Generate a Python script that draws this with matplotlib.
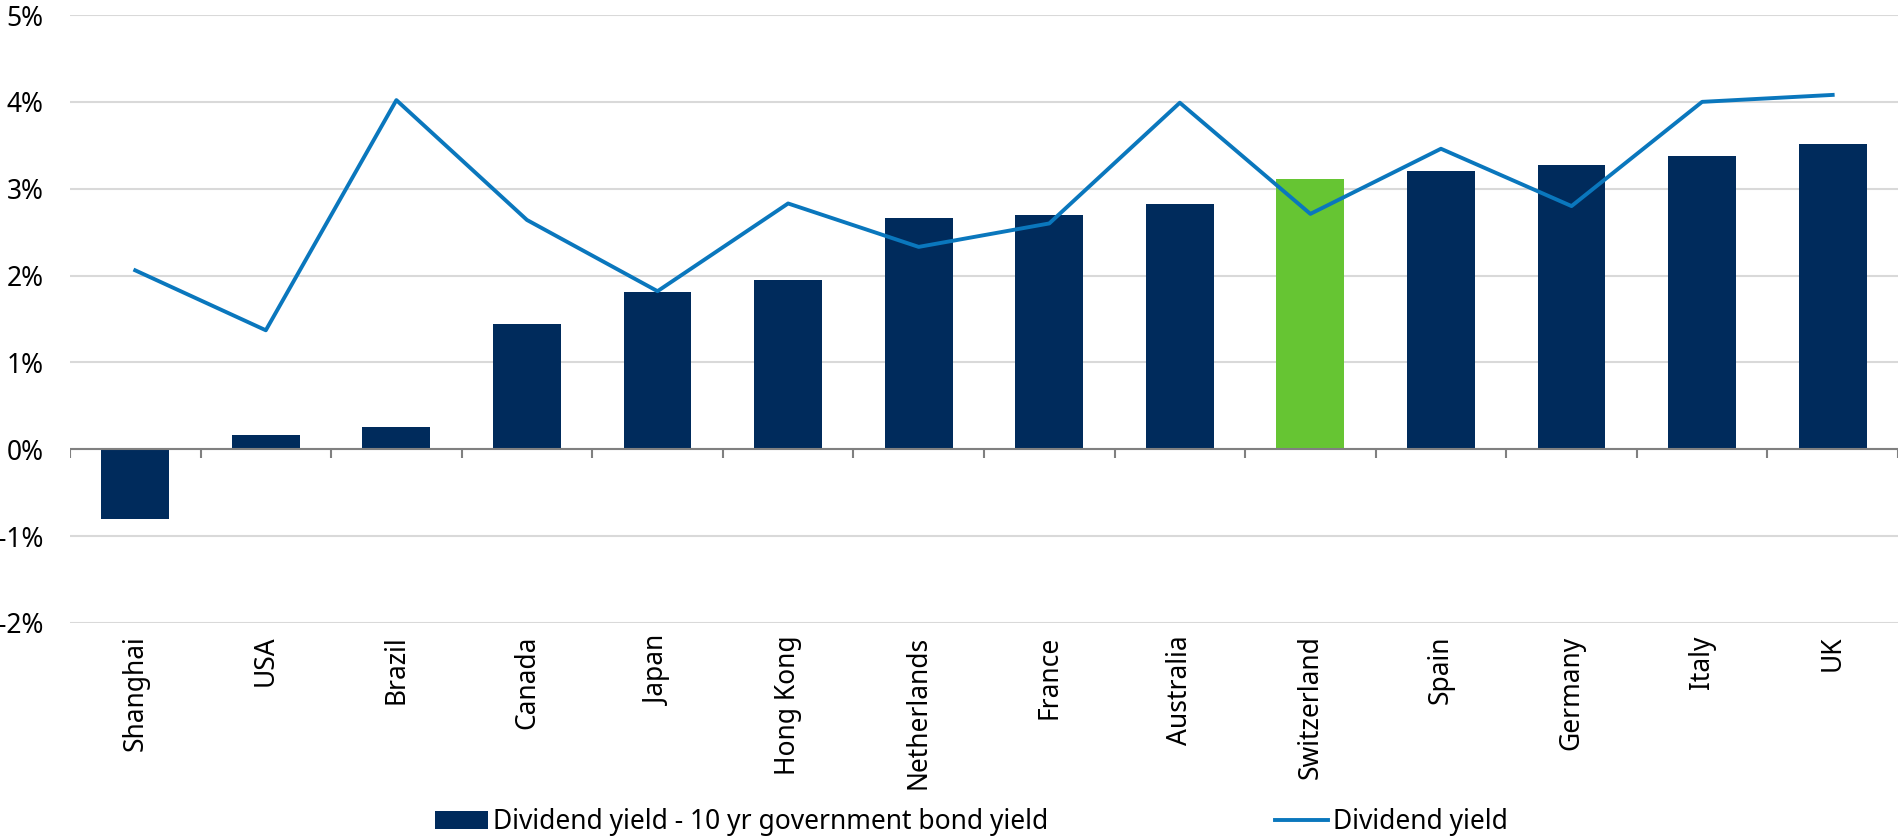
import matplotlib
matplotlib.use("Agg")
import matplotlib.pyplot as plt
import numpy as np

# --- data ---
countries = ["Shanghai", "USA", "Brazil", "Canada", "Japan", "Hong Kong", "Netherlands",
             "France", "Australia", "Switzerland", "Spain", "Germany", "Italy", "UK"]
spread = [-0.80, 0.16, 0.26, 1.44, 1.81, 1.95, 2.66, 2.70, 2.82, 3.11, 3.20, 3.27, 3.38, 3.52]
div_yield = [2.06, 1.37, 4.02, 2.64, 1.82, 2.83, 2.33, 2.60, 3.99, 2.71, 3.46, 2.80, 4.00, 4.08]
highlight = "Switzerland"

navy = "#002B5C"
green = "#66C533"
blue = "#0A77BD"

plt.rcParams["font.family"] = ["Noto Sans", "DejaVu Sans"]
plt.rcParams["font.size"] = 19

fig = plt.figure(figsize=(19.01, 8.38), dpi=100)
ax = fig.add_axes([0.0368, 0.2566, 0.9616, 0.7255])

x = np.arange(len(countries))
colors = [green if c == highlight else navy for c in countries]
ax.bar(x, spread, width=0.52, color=colors, zorder=3,
       label="Dividend yield - 10 yr government bond yield")
ax.plot(x, div_yield, color=blue, lw=2.8, zorder=4, label="Dividend yield")

ax.set_xlim(-0.5, len(countries) - 0.5)
ax.set_ylim(-2, 5)
ax.set_yticks(np.arange(-2, 6, 1))
ax.set_yticklabels([f"{v}%" for v in range(-2, 6)])
ax.grid(axis="y", color="#d9d9d9", lw=1.5, zorder=0)

# zero line with category separators
ax.axhline(0, color="#808080", lw=1.5, zorder=5)
ax.vlines(np.arange(-0.5, len(countries)), 0, -0.1, color="#808080", lw=1.5, zorder=5)

ax.set_xticks(x)
ax.set_xticklabels(countries, rotation=90)
ax.tick_params(axis="x", length=0, pad=9)
ax.tick_params(axis="y", length=0, pad=19)
for s in ax.spines.values():
    s.set_visible(False)

h, l = ax.get_legend_handles_labels()
fig.legend(h[::-1], l[::-1], loc="center", bbox_to_anchor=(0.511, 0.019), ncol=2,
           frameon=False, columnspacing=8.6, handlelength=2.0, handletextpad=0.2,
           fontsize=19)

fig.savefig("out.png", dpi=100)
